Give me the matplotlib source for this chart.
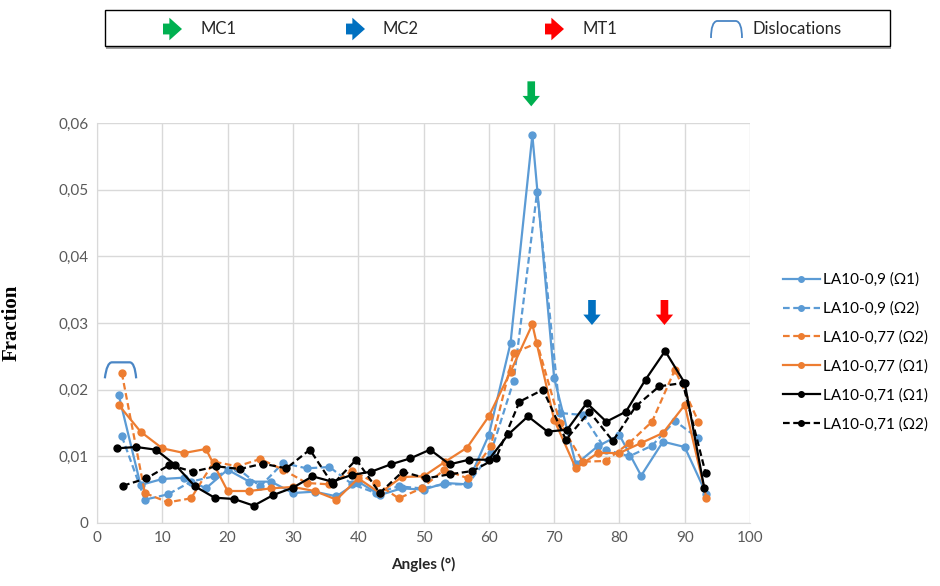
import matplotlib
matplotlib.use("Agg")
import matplotlib.pyplot as plt
from matplotlib.path import Path
from matplotlib.patches import PathPatch, Rectangle
from matplotlib.ticker import FuncFormatter

plt.rcParams['font.family'] = ['Lato', 'DejaVu Sans']

# Angles (°) for the Omega-1 series (blue/orange) and Omega-2 series
x_w1 = [3.33, 6.67, 10.0, 13.33, 16.67, 20.0, 23.33, 26.67, 30.0, 33.33,
        36.67, 40.0, 43.33, 46.67, 50.0, 53.33, 56.67, 60.0, 63.33, 66.67,
        70.0, 73.33, 76.67, 80.0, 83.33, 86.67, 90.0, 93.33]
x_w2 = [3.8, 7.33, 10.87, 14.4, 17.9, 21.5, 25.0, 28.5, 32.1, 35.6,
        39.1, 42.7, 46.2, 49.7, 53.2, 56.8, 60.3, 63.8, 67.4, 70.9,
        74.4, 77.9, 81.5, 85.0, 88.5, 92.1]
x_k1 = [3, 6, 9, 12, 15, 18, 21, 24, 27, 30, 33, 36, 39, 42, 45, 48,
        51, 54, 57, 60, 63, 66, 69, 72, 75, 78, 81, 84, 87, 90, 93]
x_k2 = [4.0, 7.57, 11.1, 14.7, 18.3, 21.9, 25.4, 29.0, 32.6, 36.1,
        39.7, 43.3, 46.8, 50.4, 54.0, 57.5, 61.1, 64.7, 68.3, 71.8,
        75.4, 79.0, 82.5, 86.1, 89.7, 93.2]

la09_w1 = [0.0192, 0.0057, 0.0066, 0.0068, 0.0052, 0.0080, 0.0062, 0.0062,
           0.0045, 0.0047, 0.0040, 0.0062, 0.0042, 0.0052, 0.0050, 0.0060,
           0.0058, 0.0132, 0.0270, 0.0582, 0.0218, 0.0088, 0.0115, 0.0132,
           0.0071, 0.0122, 0.0114, 0.0043]
la09_w2 = [0.0130, 0.0035, 0.0043, 0.0062, 0.0070, 0.0082, 0.0055, 0.0090,
           0.0082, 0.0084, 0.0058, 0.0045, 0.0055, 0.0052, 0.0058, 0.0058,
           0.0105, 0.0213, 0.0497, 0.0165, 0.0162, 0.0110, 0.0100, 0.0116,
           0.0153, 0.0127]
la077_w2 = [0.0225, 0.0045, 0.0031, 0.0037, 0.0092, 0.0085, 0.0096, 0.0080,
            0.0060, 0.0058, 0.0078, 0.0060, 0.0037, 0.0052, 0.0080, 0.0067,
            0.0115, 0.0255, 0.0270, 0.0150, 0.0092, 0.0093, 0.0120, 0.0152,
            0.0230, 0.0152]
la077_w1 = [0.0177, 0.0137, 0.0112, 0.0105, 0.0111, 0.0048, 0.0048, 0.0052,
            0.0054, 0.0048, 0.0035, 0.0067, 0.0045, 0.0069, 0.0070, 0.0092,
            0.0113, 0.0160, 0.0227, 0.0298, 0.0155, 0.0082, 0.0105, 0.0105,
            0.0120, 0.0135, 0.0177, 0.0038]
la071_w1 = [0.0112, 0.0114, 0.0110, 0.0087, 0.0055, 0.0038, 0.0036, 0.0026,
            0.0042, 0.0053, 0.0070, 0.0062, 0.0072, 0.0077, 0.0088, 0.0097,
            0.0110, 0.0088, 0.0095, 0.0095, 0.0133, 0.0160, 0.0137, 0.0140,
            0.0180, 0.0152, 0.0167, 0.0215, 0.0258, 0.0210, 0.0052]
la071_w2 = [0.0056, 0.0067, 0.0087, 0.0077, 0.0085, 0.0081, 0.0089, 0.0082,
            0.0110, 0.0058, 0.0095, 0.0045, 0.0077, 0.0067, 0.0073, 0.0078,
            0.0097, 0.0182, 0.0200, 0.0125, 0.0167, 0.0123, 0.0175, 0.0205,
            0.0210, 0.0075]

blue = '#5B9BD5'
orange = '#ED7D31'
black = '#000000'
dash = (0, (3, 1.6))

fig = plt.figure(figsize=(9.4, 5.86), dpi=100)
ax = fig.add_axes([97 / 940, 1 - 523 / 586, 653 / 940, 400 / 586])

series = [
    (x_w1, la09_w1, blue, '-', 'LA10-0,9 (Ω1)'),
    (x_w2, la09_w2, blue, dash, 'LA10-0,9 (Ω2)'),
    (x_w2, la077_w2, orange, dash, 'LA10-0,77 (Ω2)'),
    (x_w1, la077_w1, orange, '-', 'LA10-0,77 (Ω1)'),
    (x_k1, la071_w1, black, '-', 'LA10-0,71 (Ω1)'),
    (x_k2, la071_w2, black, dash, 'LA10-0,71 (Ω2)'),
]
handles = []
for xs, ys, c, ls, lab in series:
    ln, = ax.plot(xs, ys, color=c, linestyle=ls, lw=1.6, marker='o',
                  markersize=5, label=lab)
    handles.append(ln)

ax.set_xlim(0, 100)
ax.set_ylim(0, 0.06)
ax.set_xticks(range(0, 101, 10))
ax.set_yticks([0, 0.01, 0.02, 0.03, 0.04, 0.05, 0.06])
ax.yaxis.set_major_formatter(FuncFormatter(
    lambda v, p: '0' if v == 0 else ('%.2f' % v).replace('.', ',')))
ax.grid(True, color='#d9d9d9', lw=1)
ax.set_axisbelow(True)
ax.tick_params(length=0, labelsize=11, colors='#595959', pad=6)
for s in ['top', 'right']:
    ax.spines[s].set_visible(False)
for s in ['left', 'bottom']:
    ax.spines[s].set_color('#d9d9d9')

ax.set_xlabel('Angles (°)', fontsize=11, fontweight='bold', color='#262626',
              labelpad=8)
ax.set_ylabel('Fraction', fontsize=15, fontweight='bold',
              family='Liberation Serif')
ax.yaxis.set_label_coords(-0.115, 0.5)

# down arrows above the peaks
arrow_style = "simple,head_length=0.75,head_width=1.25,tail_width=0.55"
for xa, ya, col in [(66.5, 0.0625, '#00B050'), (75.8, 0.0297, '#0070C0'),
                    (86.9, 0.0297, '#FF0000')]:
    ax.annotate('', xy=(xa, ya), xytext=(0, 18), textcoords='offset points',
                annotation_clip=False,
                arrowprops=dict(arrowstyle=arrow_style, color=col, lw=0,
                                shrinkA=0, shrinkB=0))

# dislocation bracket
verts = [(1.2, 0.0217), (1.5, 0.0241), (2.3, 0.0241), (5.0, 0.0241),
         (5.8, 0.0241), (6.0, 0.0217)]
codes = [Path.MOVETO, Path.CURVE3, Path.CURVE3, Path.LINETO, Path.CURVE3,
         Path.CURVE3]
ax.add_patch(PathPatch(Path(verts, codes), fill=False, color='#4A86C5',
                       lw=1.6, clip_on=False))

fig.legend(handles=handles, loc='center left',
           bbox_to_anchor=(783 / 940, 1 - 352 / 586), frameon=False,
           fontsize=11, handlelength=2.4, handletextpad=0.25,
           labelspacing=0.95, borderpad=0, borderaxespad=0, markerscale=0.8)

# top key box
lax = fig.add_axes([0, 0, 1, 1])
lax.set_xlim(0, 940)
lax.set_ylim(586, 0)
lax.axis('off')
lax.add_patch(Rectangle((106, 47), 785, 1.5, color='#a0a0a0', lw=0))
lax.add_patch(Rectangle((105, 10), 785, 36, fill=False, ec='black', lw=1))
key_style = "simple,head_length=0.7,head_width=1.25,tail_width=0.6"
for x0, col, lab in [(163, '#00B050', 'MC1'), (346, '#0070C0', 'MC2'),
                     (545, '#FF0000', 'MT1')]:
    lax.annotate('', xy=(x0 + 19, 29), xytext=(x0, 29),
                 arrowprops=dict(arrowstyle=key_style, color=col, lw=0,
                                 shrinkA=0, shrinkB=0, mutation_scale=13))
    lax.text(x0 + 37, 29, lab, fontsize=12, va='center', color='#262626')
kverts = [(711, 38), (711, 22), (717, 21), (736, 21), (742, 22), (742, 38)]
kcodes = [Path.MOVETO, Path.CURVE3, Path.CURVE3, Path.LINETO, Path.CURVE3,
          Path.CURVE3]
lax.add_patch(PathPatch(Path(kverts, kcodes), fill=False, color='#4A86C5',
                        lw=1.3))
lax.text(753, 29, 'Dislocations', fontsize=12, va='center', color='#262626')

fig.savefig('out.png', dpi=100)
